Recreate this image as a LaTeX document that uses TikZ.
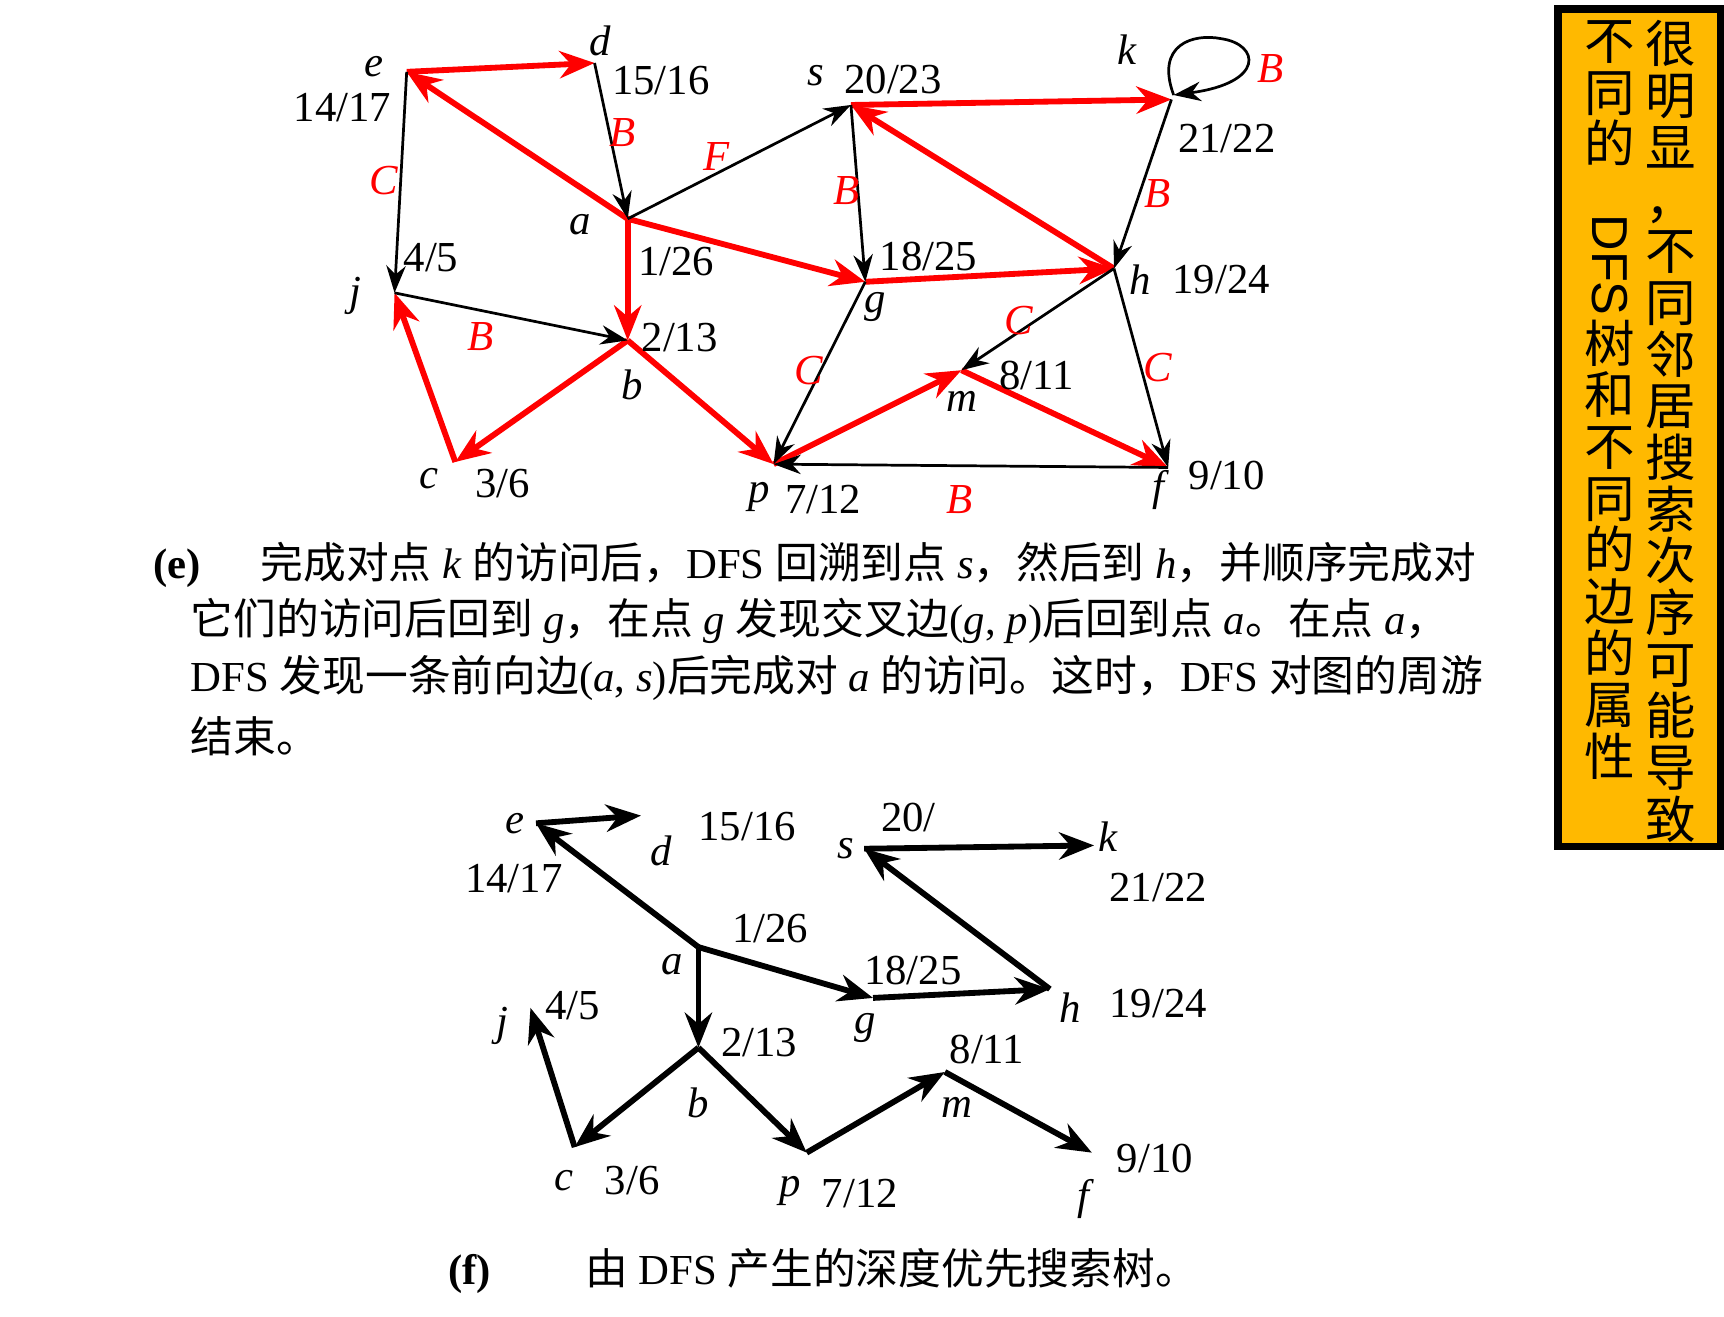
\documentclass[tikz,border=0pt]{standalone}
\usepackage{fontspec}
\setmainfont{Liberation Serif}
\newfontfamily\cjk{Noto Sans CJK SC}
\usetikzlibrary{arrows.meta}
\newcommand{\zh}[1]{{\cjk #1}}
\tikzset{
 tree/.style={draw=red,line width=1.5pt,-{Stealth[length=9pt,width=7pt]}},
 oth/.style={draw=black,line width=0.7pt,-{Stealth[length=7pt,width=5pt]}},
 ftree/.style={draw=black,line width=1.5pt,-{Stealth[length=9pt,width=7pt]}},
 lab/.style={font=\fontsize{11}{11}\selectfont\itshape,inner sep=0pt},
 num/.style={font=\fontsize{11}{11}\selectfont,inner sep=0pt},
 el/.style={font=\fontsize{11}{11}\selectfont\itshape,text=red,inner sep=0pt},
 captxt/.style={font=\fontsize{11}{11}\selectfont,inner sep=0pt,anchor=west},
}
\begin{document}
\begin{tikzpicture}[x=0.01cm,y=-0.01cm]
\useasboundingbox (0,0) rectangle (1560,1191);
% top graph
\coordinate (E) at (368,65); \coordinate (D) at (538,57); \coordinate (A) at (568,198);
\coordinate (S) at (770,95); \coordinate (K) at (1060,90); \coordinate (H) at (1008,243);
\coordinate (G) at (783,255); \coordinate (J) at (357,265); \coordinate (B) at (568,308);
\coordinate (C) at (412,418); \coordinate (P) at (700,420); \coordinate (M) at (870,335);
\coordinate (F) at (1057,423);
\draw[tree] (E)--(D); \draw[tree] (A)--(E); \draw[tree] (A)--(B); \draw[tree] (A)--(G);
\draw[tree] (G)--(H); \draw[tree] (H)--(S); \draw[tree] (S)--(K); \draw[tree] (B)--(C);
\draw[tree] (C)--(J); \draw[tree] (B)--(P); \draw[tree] (P)--(M); \draw[tree] (M)--(F);
\draw[oth] (D)--(A); \draw[oth] (E)--(J); \draw[oth] (A)--(S); \draw[oth] (S)--(G);
\draw[oth] (K)--(H); \draw[oth] (J)--(B); \draw[oth] (H)--(M); \draw[oth] (G)--(P);
\draw[oth] (H)--(F); \draw[oth] (F)--(P);
\draw[oth] (1062,86) .. controls (1045,40) and (1080,30) .. (1105,35) .. controls (1140,40) and (1145,75) .. (1062,86);
\node[lab] at (338,60) {e}; \node[num] at (310,97) {14/17};
\node[lab] at (543,37) {d}; \node[num] at (598,73) {15/16};
\node[lab] at (525,203) {a}; \node[num] at (612,237) {1/26};
\node[lab] at (738,68) {s}; \node[num] at (808,72) {20/23};
\node[lab] at (1020,45) {k}; \node[num] at (1110,125) {21/22};
\node[lab] at (1032,253) {h}; \node[num] at (1105,253) {19/24};
\node[lab] at (792,278) {g}; \node[num] at (840,232) {18/25};
\node[lab] at (322,268) {j}; \node[num] at (390,233) {4/5};
\node[lab] at (572,348) {b}; \node[num] at (615,305) {2/13};
\node[lab] at (388,433) {c}; \node[num] at (455,438) {3/6};
\node[lab] at (687,450) {p}; \node[num] at (745,452) {7/12};
\node[lab] at (870,363) {m}; \node[num] at (938,340) {8/11};
\node[lab] at (1048,443) {f}; \node[num] at (1110,430) {9/10};
\node[el] at (347,163) {C}; \node[el] at (563,120) {B}; \node[el] at (648,142) {F};
\node[el] at (766,172) {B}; \node[el] at (1047,175) {B}; \node[el] at (435,305) {B};
\node[el] at (922,290) {C}; \node[el] at (732,335) {C}; \node[el] at (1048,333) {C};
\node[el] at (868,452) {B}; \node[el] at (1150,62) {B};
% caption e
\node[captxt] at (138,511) {\textbf{(e)}\hspace{1.4em}\zh{完成对点} \textit{k} \zh{的访问后，}DFS \zh{回溯到点} \textit{s}\zh{，然后到} \textit{h}\zh{，并顺序完成对}};
\node[captxt] at (172,562) {\zh{它们的访问后回到} \textit{g}\zh{，在点} \textit{g} \zh{发现交叉边}(\textit{g}, \textit{p})\zh{后回到点} \textit{a}\zh{。在点} \textit{a}\zh{，}};
\node[captxt] at (172,613) {DFS \zh{发现一条前向边}(\textit{a}, \textit{s})\zh{后完成对} \textit{a} \zh{的访问。这时，}DFS \zh{对图的周游}};
\node[captxt] at (172,666) {\zh{结束。}};
% bottom tree
\coordinate (e2) at (485,745); \coordinate (d2) at (580,738); \coordinate (a2) at (632,857);
\coordinate (s2) at (782,768); \coordinate (k2) at (990,765); \coordinate (h2) at (950,895);
\coordinate (g2) at (790,903); \coordinate (j2) at (480,912); \coordinate (b2) at (632,948);
\coordinate (c2) at (520,1038); \coordinate (p2) at (730,1043); \coordinate (m2) at (855,970);
\coordinate (f2) at (988,1043);
\draw[ftree] (e2)--(d2); \draw[ftree] (a2)--(e2); \draw[ftree] (a2)--(b2); \draw[ftree] (a2)--(g2);
\draw[ftree] (g2)--(h2); \draw[ftree] (h2)--(s2); \draw[ftree] (s2)--(k2); \draw[ftree] (b2)--(c2);
\draw[ftree] (c2)--(j2); \draw[ftree] (b2)--(p2); \draw[ftree] (p2)--(m2); \draw[ftree] (m2)--(f2);
\node[lab] at (466,745) {e}; \node[num] at (465,795) {14/17};
\node[lab] at (598,770) {d}; \node[num] at (676,748) {15/16};
\node[lab] at (608,873) {a}; \node[num] at (697,840) {1/26};
\node[lab] at (765,768) {s}; \node[num] at (822,740) {20/};
\node[lab] at (1003,757) {k}; \node[num] at (1048,803) {21/22};
\node[lab] at (968,912) {h}; \node[num] at (1048,908) {19/24};
\node[lab] at (783,930) {g}; \node[num] at (826,878) {18/25};
\node[lab] at (455,928) {j}; \node[num] at (518,910) {4/5};
\node[lab] at (632,998) {b}; \node[num] at (687,943) {2/13};
\node[lab] at (510,1068) {c}; \node[num] at (572,1068) {3/6};
\node[lab] at (715,1078) {p}; \node[num] at (778,1080) {7/12};
\node[lab] at (866,1002) {m}; \node[num] at (893,950) {8/11};
\node[lab] at (980,1085) {f}; \node[num] at (1045,1048) {9/10};
\node[captxt] at (405,1150) {\textbf{(f)}\hspace{2.2em}\zh{由} DFS \zh{产生的深度优先搜索树。}};
% side box
\draw[fill={rgb,255:red,255;green,185;blue,0},line width=2pt] (1410,8) rectangle (1557,766);
\node[anchor=north,align=center,inner sep=0pt,font=\cjk\fontsize{13}{13.3}\selectfont] at (1512,18)
 {很\\明\\显\\，\\不\\同\\邻\\居\\搜\\索\\次\\序\\可\\能\\导\\致};
\node[anchor=north,align=center,inner sep=0pt,font=\cjk\fontsize{13}{13.3}\selectfont] at (1457,18)
 {不\\同\\的\\\rotatebox{-90}{\fontspec{Liberation Sans}DFS}\\树\\和\\不\\同\\的\\边\\的\\属\\性};
\end{tikzpicture}
\end{document}
